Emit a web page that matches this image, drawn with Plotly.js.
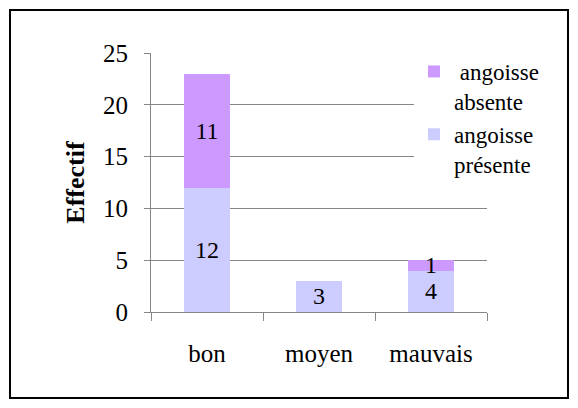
<!DOCTYPE html>
<html>
<head>
<meta charset="utf-8">
<script src="https://cdn.plot.ly/plotly-3.0.1.min.js"></script>
<style>html,body{margin:0;padding:0;background:#fff;}#chart{width:578px;height:408px;}</style>
</head>
<body>
<div id="chart"></div>
<script>
const categories = ["bon", "moyen", "mauvais"];
const presente = [12, 3, 4];
const absente = [11, 0, 1];
const seriesNames = ["angoisse<br>présente", "\u00a0angoisse<br>absente"];
const yTicks = [0, 5, 10, 15, 20, 25];
const yTitle = "Effectif";

const W = 578, H = 408;
const ml = 151, mr = 91, mt = 53, mb = 96;
const pw = W - ml - mr, ph = H - mt - mb;
const px = x => (x - ml) / pw;
const py = y => (H - mb - y) / ph;

const FONT = "Liberation Serif";
const FS_TICK = 25, FS_LBL = 24, FS_LEG = 23, FS_TITLE = 26;
const lbl = arr => arr.map(v => v ? String(v) : "");

const traces = [
  {type: "bar", x: categories, y: presente, name: seriesNames[0],
   marker: {color: "#CCCCFF"}, text: lbl(presente), textposition: "inside",
   insidetextanchor: "middle", textangle: 0, constraintext: "none",
   textfont: {family: FONT, size: FS_LBL, color: "#000"}, hoverinfo: "skip"},
  {type: "bar", x: categories, y: absente, name: seriesNames[1],
   marker: {color: "#CC99FF"}, text: lbl(absente), textposition: "inside",
   insidetextanchor: "middle", textangle: 0, constraintext: "none",
   textfont: {family: FONT, size: FS_LBL, color: "#000"}, hoverinfo: "skip"}
];

const layout = {
  width: W, height: H,
  margin: {l: ml, r: mr, t: mt, b: mb, pad: 0},
  paper_bgcolor: "#fff", plot_bgcolor: "#fff",
  barmode: "stack", bargap: 0.59,
  font: {family: FONT, size: FS_TICK, color: "#000"},
  showlegend: true,
  legend: {x: px(414), xanchor: "left", y: py(50), yanchor: "top",
    bgcolor: "#fff", borderwidth: 0, traceorder: "reversed", valign: "top",
    font: {family: FONT, size: FS_LEG, color: "#000"}, tracegroupgap: 8},
  xaxis: {type: "category", showline: true, linecolor: "#868686", linewidth: 1,
    ticks: "outside", tickson: "boundaries", ticklen: 8, tickcolor: "#868686",
    showgrid: false, zeroline: false, ticklabelstandoff: 19,
    tickfont: {family: FONT, size: FS_TICK, color: "#000"}, fixedrange: true},
  yaxis: {range: [0, 25], tickvals: yTicks, showline: true, linecolor: "#868686",
    linewidth: 1, ticks: "outside", ticklen: 6, tickcolor: "#868686",
    showgrid: true, gridcolor: "#868686", gridwidth: 1, zeroline: false,
    ticklabelstandoff: 11,
    tickfont: {family: FONT, size: FS_TICK, color: "#000"},
    title: {text: "<b>" + yTitle + "</b>", font: {family: FONT, size: FS_TITLE, color: "#000"}, standoff: 10},
    fixedrange: true},
  shapes: [{type: "rect", xref: "paper", yref: "paper",
    x0: px(10), x1: px(568), y0: py(398), y1: py(10),
    line: {color: "#000", width: 2}, fillcolor: "rgba(0,0,0,0)", layer: "above"}]
};

Plotly.newPlot("chart", traces, layout, {staticPlot: true, displayModeBar: false});
</script>
</body>
</html>
